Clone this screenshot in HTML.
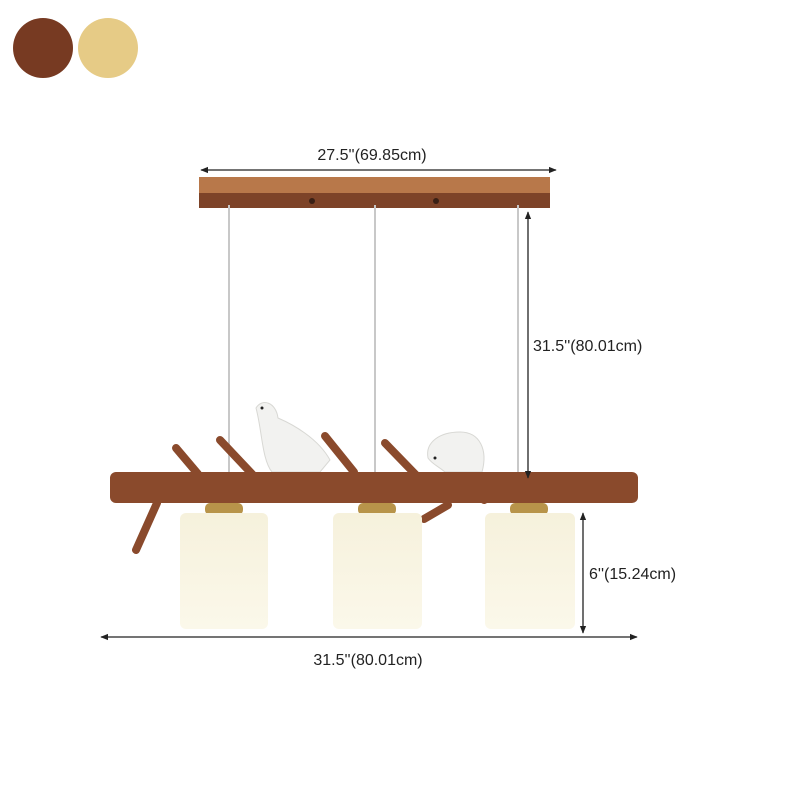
<!DOCTYPE html>
<html><head><style>
body{margin:0;width:800px;height:800px;background:#fff;position:relative;overflow:hidden;font-family:"Liberation Sans",sans-serif}
</style></head><body>
<svg width="800" height="800" viewBox="0 0 800 800" xmlns="http://www.w3.org/2000/svg">
<defs>
<marker id="a" viewBox="0 0 10 10" refX="9" refY="5" markerWidth="6" markerHeight="6" orient="auto-start-reverse"><path d="M0,1 L10,5 L0,9z" fill="#222"/></marker>
<linearGradient id="sh" x1="0" y1="0" x2="0" y2="1"><stop offset="0" stop-color="#f6f1dc"/><stop offset="1" stop-color="#fbf8ea"/></linearGradient>
</defs>
<circle cx="43" cy="48" r="30" fill="#773a22"/>
<circle cx="108" cy="48" r="30" fill="#e6cb86"/>
<rect x="199" y="177" width="351" height="31" fill="#7d4328"/>
<rect x="199" y="177" width="351" height="16" fill="#b8784a"/>
<circle cx="312" cy="201" r="3" fill="#3a2015"/><circle cx="436" cy="201" r="3" fill="#3a2015"/>
<g stroke="#c8c8c8" stroke-width="2"><line x1="229" y1="205" x2="229" y2="474"/><line x1="375" y1="205" x2="375" y2="474"/><line x1="518" y1="205" x2="518" y2="474"/></g>
<g stroke="#8a4a2c" stroke-width="8" stroke-linecap="round">
<line x1="176" y1="448" x2="198" y2="474"/><line x1="220" y1="440" x2="253" y2="475"/>
<line x1="325" y1="436" x2="354" y2="472"/><line x1="385" y1="443" x2="417" y2="476"/>
<line x1="157" y1="503" x2="136" y2="550"/><line x1="424" y1="519" x2="448" y2="505"/>
<line x1="484" y1="500" x2="508" y2="488"/>
</g>
<g fill="#f2f2f0" stroke="#d8d8d4" stroke-width="1">
<path d="M256,408 C262,398 276,402 278,418 C292,424 318,438 330,460 L320,472 L272,472 C262,460 262,430 256,408z"/>
<path d="M428,458 C425,442 440,432 460,432 C480,432 488,450 482,472 L445,472 C438,466 432,464 428,458z"/>
</g>
<circle cx="262" cy="408" r="1.5" fill="#222"/><circle cx="435" cy="458" r="1.5" fill="#222"/>
<rect x="110" y="472" width="528" height="31" rx="6" fill="#8a4a2c"/>
<g fill="#b8944a"><rect x="205" y="503" width="38" height="12" rx="5"/><rect x="358" y="503" width="38" height="12" rx="5"/><rect x="510" y="503" width="38" height="12" rx="5"/></g>
<g fill="url(#sh)"><rect x="180" y="513" width="88" height="116" rx="6"/><rect x="333" y="513" width="89" height="116" rx="6"/><rect x="485" y="513" width="90" height="116" rx="6"/></g>
<g stroke="#222" stroke-width="1.3" fill="none">
<line x1="201" y1="170" x2="556" y2="170" marker-start="url(#a)" marker-end="url(#a)"/>
<line x1="528" y1="212" x2="528" y2="478" marker-start="url(#a)" marker-end="url(#a)"/>
<line x1="583" y1="513" x2="583" y2="633" marker-start="url(#a)" marker-end="url(#a)"/>
<line x1="101" y1="637" x2="637" y2="637" marker-start="url(#a)" marker-end="url(#a)"/>
</g>
<g font-family="Liberation Sans, sans-serif" font-size="16" fill="#222">
<text x="372" y="160" text-anchor="middle">27.5''(69.85cm)</text>
<text x="533" y="351">31.5''(80.01cm)</text>
<text x="589" y="579">6''(15.24cm)</text>
<text x="368" y="665" text-anchor="middle">31.5''(80.01cm)</text>
</g>
</svg>
</body></html>
